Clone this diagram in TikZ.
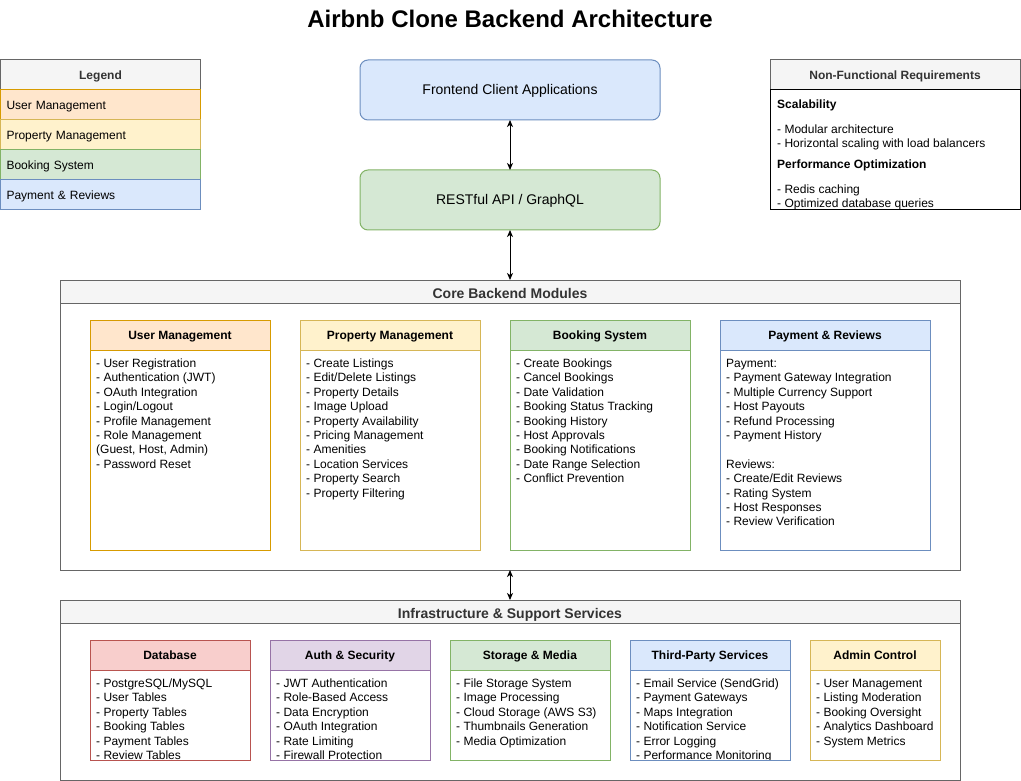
\documentclass[tikz,border=0pt]{standalone}
\usepackage{fontspec}
\setmainfont{Liberation Sans}
\usetikzlibrary{arrows.meta}
\definecolor{grayS}{HTML}{666666}
\definecolor{grayF}{HTML}{F5F5F5}
\definecolor{grayT}{HTML}{333333}
\definecolor{orF}{HTML}{FFE6CC}\definecolor{orS}{HTML}{D79B00}
\definecolor{yeF}{HTML}{FFF2CC}\definecolor{yeS}{HTML}{D6B656}
\definecolor{grF}{HTML}{D5E8D4}\definecolor{grS}{HTML}{82B366}
\definecolor{blF}{HTML}{DAE8FC}\definecolor{blS}{HTML}{6C8EBF}
\definecolor{reF}{HTML}{F8CECC}\definecolor{reS}{HTML}{B85450}
\definecolor{puF}{HTML}{E1D5E7}\definecolor{puS}{HTML}{9673A6}
\begin{document}
\begin{tikzpicture}[x=1pt,y=-1pt,
  box/.style={draw, line width=1pt, anchor=north west, inner sep=0pt, outer sep=0pt},
  capc/.style={text height=#1, text depth=0pt},
  hdr/.style={box, minimum height=30pt, capc=8.6pt, font=\bfseries\fontsize{12}{14.4}\selectfont},
  listtxt/.style={anchor=north west, inner sep=0pt, align=left, font=\fontsize{12}{14.4}\selectfont},
  legrow/.style={box, minimum height=30pt, text width=188pt, inner xsep=6pt, align=left, capc=8.6pt, font=\fontsize{12}{14.4}\selectfont},
  grayhdr/.style={box, fill=grayF, draw=grayS, text=grayT},
  biarrow/.style={line width=1pt, {Stealth[length=7pt,width=6pt,inset=2pt]}-{Stealth[length=7pt,width=6pt,inset=2pt]}},
  bigbox/.style={box, fill=#1, rounded corners=8pt, minimum width=300pt, minimum height=60pt, capc=10pt, font=\fontsize{14}{16.8}\selectfont}
]
\useasboundingbox (0,0) rectangle (1021,781);

% title
\node[font=\bfseries\fontsize{24}{28}\selectfont, capc=17.2pt, inner sep=0pt] (title) at (510,19) {Airbnb Clone Backend Architecture};

% legend
\node[grayhdr, minimum width=200pt, minimum height=30pt, capc=8.6pt, font=\bfseries\fontsize{12}{14.4}\selectfont] (legh) at (0.5,60) {Legend};
\node[legrow, fill=orF, draw=orS] (leg1) at (0.5,90) {User Management};
\node[legrow, fill=yeF, draw=yeS] (leg2) at (0.5,120) {Property Management};
\node[legrow, fill=grF, draw=grS] (leg3) at (0.5,150) {Booking System};
\node[legrow, fill=blF, draw=blS] (leg4) at (0.5,180) {Payment \& Reviews};

% NFR
\node[grayhdr, minimum width=250pt, minimum height=30pt, capc=8.6pt, font=\bfseries\fontsize{12}{14.4}\selectfont] (nfrh) at (770,60) {Non-Functional Requirements};
\begin{scope}
\clip (770,90) rectangle (1020,210);
\node[listtxt, font=\bfseries\fontsize{12}{14.4}\selectfont] (nfr1) at (777,98.2) {\strut Scalability};
\node[listtxt] (nfr2) at (777,123.2) {\strut- Modular architecture\\- Horizontal scaling with load balancers};
\node[listtxt, font=\bfseries\fontsize{12}{14.4}\selectfont] (nfr3) at (777,158.2) {\strut Performance Optimization};
\node[listtxt] (nfr4) at (777,183.2) {\strut- Redis caching\\- Optimized database queries};
\end{scope}
\node[box, draw=black, minimum width=250pt, minimum height=120pt] (nfrb) at (770,90) {};

% frontend / api
\node[bigbox=blF, draw=blS] (fe) at (360,60) {Frontend Client Applications};
\node[bigbox=grF, draw=grS] (api) at (360,170) {RESTful API / GraphQL};

% core container
\node[box, draw=grayS, minimum width=900pt, minimum height=290pt] (core) at (60,280) {};
\node[grayhdr, minimum width=900pt, minimum height=23pt, capc=13pt, font=\bfseries\fontsize{14}{16.8}\selectfont] (coreh) at (60,280) {Core Backend Modules};

% modules
\node[hdr, fill=orF, draw=orS, minimum width=180pt] (umh) at (90,320) {User Management};
\node[box, draw=orS, minimum width=180pt, minimum height=200pt] (umb) at (90,350) {};
\node[listtxt] (uml) at (96,357.3) {\strut- User Registration\\- Authentication (JWT)\\- OAuth Integration\\- Login/Logout\\- Profile Management\\- Role Management\\(Guest, Host, Admin)\\- Password Reset};

\node[hdr, fill=yeF, draw=yeS, minimum width=180pt] (pmh) at (300,320) {Property Management};
\node[box, draw=yeS, minimum width=180pt, minimum height=200pt] (pmb) at (300,350) {};
\node[listtxt] (pml) at (306,357.3) {\strut- Create Listings\\- Edit/Delete Listings\\- Property Details\\- Image Upload\\- Property Availability\\- Pricing Management\\- Amenities\\- Location Services\\- Property Search\\- Property Filtering};

\node[hdr, fill=grF, draw=grS, minimum width=180pt] (bsh) at (510,320) {Booking System};
\node[box, draw=grS, minimum width=180pt, minimum height=200pt] (bsb) at (510,350) {};
\node[listtxt] (bsl) at (516,357.3) {\strut- Create Bookings\\- Cancel Bookings\\- Date Validation\\- Booking Status Tracking\\- Booking History\\- Host Approvals\\- Booking Notifications\\- Date Range Selection\\- Conflict Prevention};

\node[hdr, fill=blF, draw=blS, minimum width=210pt] (prh) at (720,320) {Payment \& Reviews};
\node[box, draw=blS, minimum width=210pt, minimum height=200pt] (prb) at (720,350) {};
\node[listtxt] (prl) at (726,357.3) {\strut Payment:\\- Payment Gateway Integration\\- Multiple Currency Support\\- Host Payouts\\- Refund Processing\\- Payment History\\[14.4pt]Reviews:\\- Create/Edit Reviews\\- Rating System\\- Host Responses\\- Review Verification};

% infra container
\node[box, draw=grayS, minimum width=900pt, minimum height=180pt] (infra) at (60,600) {};
\node[grayhdr, minimum width=900pt, minimum height=23pt, capc=13pt, font=\bfseries\fontsize{14}{16.8}\selectfont] (infrah) at (60,600) {Infrastructure \& Support Services};

% infra boxes
\node[hdr, fill=reF, draw=reS, minimum width=160pt] (dbh) at (90,640) {Database};
\begin{scope}\clip (90,670) rectangle (250,760);
\node[listtxt] (dbl) at (96,677.3) {\strut- PostgreSQL/MySQL\\- User Tables\\- Property Tables\\- Booking Tables\\- Payment Tables\\- Review Tables};
\end{scope}
\node[box, draw=reS, minimum width=160pt, minimum height=90pt] (dbb) at (90,670) {};

\node[hdr, fill=puF, draw=puS, minimum width=160pt] (ash) at (270,640) {Auth \& Security};
\begin{scope}\clip (270,670) rectangle (430,760);
\node[listtxt] (asl) at (276,677.3) {\strut- JWT Authentication\\- Role-Based Access\\- Data Encryption\\- OAuth Integration\\- Rate Limiting\\- Firewall Protection};
\end{scope}
\node[box, draw=puS, minimum width=160pt, minimum height=90pt] (asb) at (270,670) {};

\node[hdr, fill=grF, draw=grS, minimum width=160pt] (smh) at (450,640) {Storage \& Media};
\node[box, draw=grS, minimum width=160pt, minimum height=90pt] (smb) at (450,670) {};
\node[listtxt] (sml) at (456,677.3) {\strut- File Storage System\\- Image Processing\\- Cloud Storage (AWS S3)\\- Thumbnails Generation\\- Media Optimization};

\node[hdr, fill=blF, draw=blS, minimum width=160pt] (tph) at (630,640) {Third-Party Services};
\begin{scope}\clip (630,670) rectangle (790,760);
\node[listtxt] (tpl) at (636,677.3) {\strut- Email Service (SendGrid)\\- Payment Gateways\\- Maps Integration\\- Notification Service\\- Error Logging\\- Performance Monitoring};
\end{scope}
\node[box, draw=blS, minimum width=160pt, minimum height=90pt] (tpb) at (630,670) {};

\node[hdr, fill=yeF, draw=yeS, minimum width=130pt] (ach) at (810,640) {Admin Control};
\node[box, draw=yeS, minimum width=130pt, minimum height=90pt] (acb) at (810,670) {};
\node[listtxt] (acl) at (816,677.3) {\strut- User Management\\- Listing Moderation\\- Booking Oversight\\- Analytics Dashboard\\- System Metrics};

% connectors
\draw[biarrow] (fe) -- (api);
\draw[biarrow] (api) -- (coreh);
\draw[biarrow] (core) -- (infrah);
\end{tikzpicture}
\end{document}
